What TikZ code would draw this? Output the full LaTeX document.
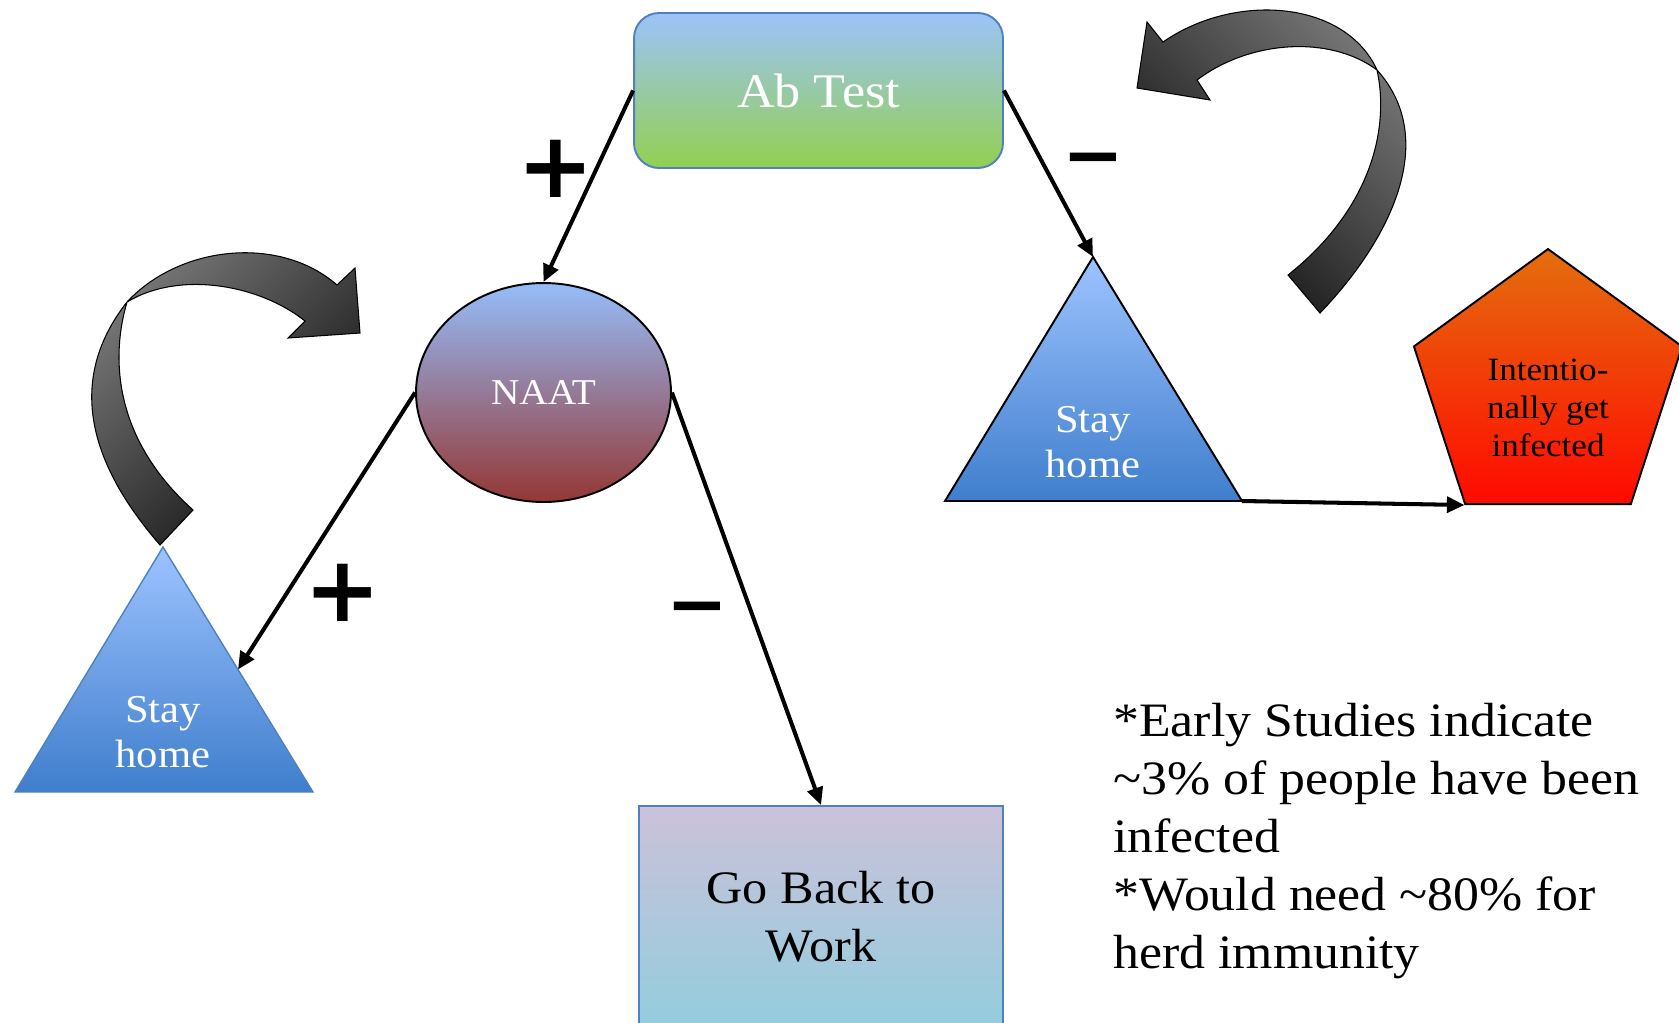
\documentclass[tikz,border=0pt]{standalone}
\usepackage{fontspec}
\setmainfont{Liberation Serif}[FakeStretch=1.08]
\newfontfamily\signfont{DejaVu Sans}
\usetikzlibrary{arrows.meta,shapes.geometric}

\definecolor{lineblue}{RGB}{79,129,189}
\definecolor{abtop}{RGB}{157,195,250}
\definecolor{abbot}{RGB}{146,208,80}
\definecolor{naattop}{RGB}{149,189,250}
\definecolor{naatbot}{RGB}{149,55,53}
\definecolor{tritop}{RGB}{157,195,255}
\definecolor{tribot}{RGB}{63,126,204}
\definecolor{pentop}{RGB}{228,110,14}
\definecolor{penbot}{RGB}{255,10,0}
\definecolor{worktop}{RGB}{204,193,218}
\definecolor{workbot}{RGB}{147,205,221}

\begin{document}
\begin{tikzpicture}[x=0.02cm,y=-0.02cm,
    link/.style={line width=2.3pt,-{Triangle[length=10pt,width=9pt]}},
    pm/.style={font=\signfont\bfseries\fontsize{#1}{#1}\selectfont,inner sep=0pt,anchor=base},
    bentarrow/.style={draw=black,line width=0.6pt,top color=gray,bottom color=black!95,shading angle=#1},
    staytext/.style={text=white,align=center,font=\fontsize{22.5}{25.6}\selectfont}]
    % frame of the slide
    \path[use as bounding box,clip] (0,0) rectangle (1679,1022);

    % test nodes
    \node[draw=lineblue,line width=1.1pt,rounded corners=0.5cm,top color=abtop,bottom color=abbot,
        minimum width=7.38cm,minimum height=3.1cm,text=white,font=\fontsize{27.5}{34}\selectfont]
        (ab) at (818.5,90.5) {Ab Test};
    \node[ellipse,draw,line width=1.1pt,top color=naattop,bottom color=naatbot,
        minimum width=5.1cm,minimum height=4.38cm,inner sep=0pt,text=white,font=\fontsize{20.7}{25}\selectfont]
        (naat) at (543.5,392.5) {NAAT};
    \node[draw=lineblue,line width=1.1pt,top color=worktop,bottom color=workbot,
        minimum width=7.28cm,minimum height=4.44cm,align=center,font=\fontsize{26.5}{33}\selectfont]
        (work) at (821,917) {Go Back to\\Work};

    % stay home triangles
    \coordinate (homeLtop) at (163,547);
    \coordinate (homeLleft) at (15,792);
    \coordinate (homeLright) at (313,792);
    \coordinate (homeLside) at (238,669.5);
    \path[draw=lineblue,line width=0.8pt,top color=tritop,bottom color=tribot]
        (homeLtop) -- (homeLright) -- (homeLleft) -- cycle;
    \node[staytext] (homeL) at (163,732) {Stay\\home};

    \coordinate (homeRtop) at (1093,257);
    \coordinate (homeRleft) at (945,501);
    \coordinate (homeRright) at (1242,501);
    \path[draw=black,line width=1.1pt,top color=tritop,bottom color=tribot]
        (homeRtop) -- (homeRright) -- (homeRleft) -- cycle;
    \node[staytext] (homeR) at (1093,442) {Stay\\home};

    % pentagon
    \node[regular polygon,regular polygon sides=5,minimum size=5.64cm,inner sep=0pt,
        draw,line width=1.1pt,top color=pentop,bottom color=penbot] (infect) at (1548,390) {};
    \node[align=center,font=\fontsize{18.5}{21.6}\selectfont] (infecttext) at (1548,408)
        {Intentio-\\nally get\\infected};

    % connectors
    \draw[link] (ab.west) -- (naat.north);
    \draw[link] (ab.east) -- (homeRtop);
    \draw[link] (naat.west) -- (homeLside);
    \draw[link] (naat.east) -- (work.north);
    \draw[link] (homeRright) -- (infect.corner 3);

    % signs
    \node[pm=52] (plusA) at (556,197) {+};
    \node[pm=42] (minusA) at (1093,180) {−};
    \node[pm=52] (plusB) at (343,621) {+};
    \node[pm=42] (minusB) at (697,629) {−};

    % curved arrows
    \path[bentarrow=45] (160,545) .. controls (95,470) and (62,385) .. (127,302)
        .. controls (180,245) and (280,235) .. (337,285) -- (355,268) -- (360,333) -- (288,338) -- (305,321)
        .. controls (260,285) and (180,270) .. (127,302)
        .. controls (110,360) and (115,440) .. (193,510) -- cycle;
    \path[bentarrow=-45] (1320,313) .. controls (1390,240) and (1440,140) .. (1377,70)
        .. controls (1345,0) and (1235,-8) .. (1163,42) -- (1147,22) -- (1137,88) -- (1210,100) -- (1197,80)
        .. controls (1250,40) and (1330,35) .. (1377,70)
        .. controls (1390,130) and (1370,210) .. (1288,275) -- cycle;

    % note
    \node[anchor=north west,inner sep=0pt,align=left,font=\fontsize{27.3}{33}\selectfont] (notes) at (1113,703)
        {*Early Studies indicate\\
         \textasciitilde3\% of people have been\\
         infected\\
         *Would need \textasciitilde80\% for\\
         herd immunity};
\end{tikzpicture}
\end{document}
